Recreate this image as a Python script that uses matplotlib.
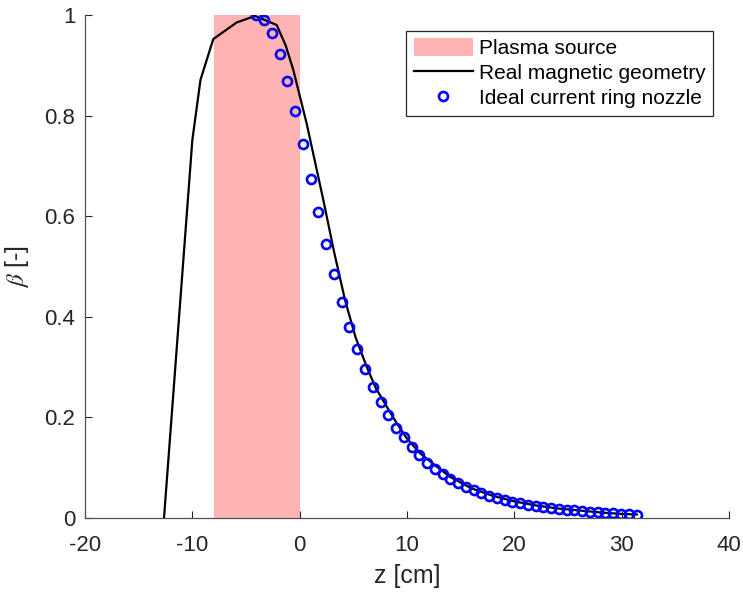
import numpy as np
import matplotlib.pyplot as plt

# plasma source extent [cm]
source_z = [-8.0, 0.0]

# real magnetic geometry, beta along the axis
real_z = [-12.64, -10.0, -9.24, -8.05, -5.87, -4.16, -2.14, -1.3, -0.6, 0.65,
          2.2, 3.2, 4.22, 5.2, 6.24, 7.1, 8.1, 9.0, 9.96, 11.2, 12.6, 14.0,
          16.0, 18.0, 20.0, 22.0, 24.0, 26.0, 28.0, 30.0, 31.4]
real_beta = [0.0, 0.752, 0.872, 0.953, 0.986, 0.999, 0.981, 0.94, 0.892, 0.785,
             0.633, 0.53, 0.434, 0.36, 0.301, 0.258, 0.222, 0.19, 0.159, 0.129,
             0.105, 0.082, 0.059, 0.044, 0.033, 0.025, 0.019, 0.015, 0.011,
             0.008, 0.007]

# ideal current ring nozzle
ring_z = [-4.03, -3.31, -2.59, -1.86, -1.14, -0.42, 0.31, 1.03, 1.75, 2.47,
          3.19, 3.92, 4.64, 5.36, 6.09, 6.81, 7.53, 8.25, 8.98, 9.70,
          10.42, 11.14, 11.87, 12.59, 13.31, 14.03, 14.76, 15.48, 16.20, 16.93,
          17.65, 18.37, 19.09, 19.82, 20.54, 21.26, 21.98, 22.71, 23.43, 24.15,
          24.87, 25.60, 26.32, 27.04, 27.77, 28.49, 29.21, 29.93, 30.66, 31.38]
ring_beta = [1.000, 0.991, 0.965, 0.923, 0.870, 0.810, 0.744, 0.675, 0.608, 0.545,
             0.485, 0.430, 0.381, 0.336, 0.297, 0.261, 0.230, 0.204, 0.180, 0.161,
             0.142, 0.125, 0.110, 0.098, 0.087, 0.078, 0.069, 0.062, 0.055, 0.049,
             0.044, 0.040, 0.036, 0.032, 0.029, 0.026, 0.024, 0.022, 0.020, 0.018,
             0.016, 0.015, 0.013, 0.012, 0.011, 0.010, 0.009, 0.008, 0.007, 0.006]

plt.rcParams['font.family'] = ['Liberation Sans', 'DejaVu Sans']
plt.rcParams['mathtext.fontset'] = 'stix'
plt.rcParams['axes.unicode_minus'] = False

grey = '#262626'
fig = plt.figure(figsize=(7.43, 5.94), dpi=100)
ax = fig.add_axes([0.1144, 0.128, 0.8668, 0.846])

ax.axvspan(source_z[0], source_z[1], ymin=0, ymax=1, color='#FFB3B3', lw=0,
           label='Plasma source')
ax.plot(real_z, real_beta, color='k', lw=1.6, label='Real magnetic geometry')
ax.plot(ring_z, ring_beta, 'o', color='#0000FF', mfc='none', ms=6.5, mew=1.9,
        label='Ideal current ring nozzle')

ax.set_xlim(-20, 40)
ax.set_ylim(0, 1)
ax.set_xticks(np.arange(-20, 41, 10))
ax.set_yticks([0, 0.2, 0.4, 0.6, 0.8, 1])
ax.set_yticklabels(['0', '0.2', '0.4', '0.6', '0.8', '1'])
ax.tick_params(direction='in', length=5, width=0.8, colors=grey, labelsize=16)
ax.tick_params(axis='x', pad=12)
ax.tick_params(axis='y', pad=7)
for s in ['top', 'right']:
    ax.spines[s].set_visible(False)
for s in ['left', 'bottom']:
    ax.spines[s].set_color('#505050')
    ax.spines[s].set_linewidth(0.9)

ax.set_xlabel('z [cm]', fontsize=18, color=grey, labelpad=6)
ax.set_ylabel(r'$\beta$ [-]', fontsize=18, color=grey, labelpad=10)

leg = ax.legend(loc='upper right', fontsize=15, frameon=True, fancybox=False,
                edgecolor='#262626', framealpha=1, borderaxespad=0.75,
                handlelength=2.85, handletextpad=0.3, labelspacing=0.25,
                borderpad=0.35, handleheight=0.9)
leg.get_frame().set_linewidth(0.9)
for t in leg.get_texts():
    t.set_color('k')

fig.savefig('out.png', dpi=100)
